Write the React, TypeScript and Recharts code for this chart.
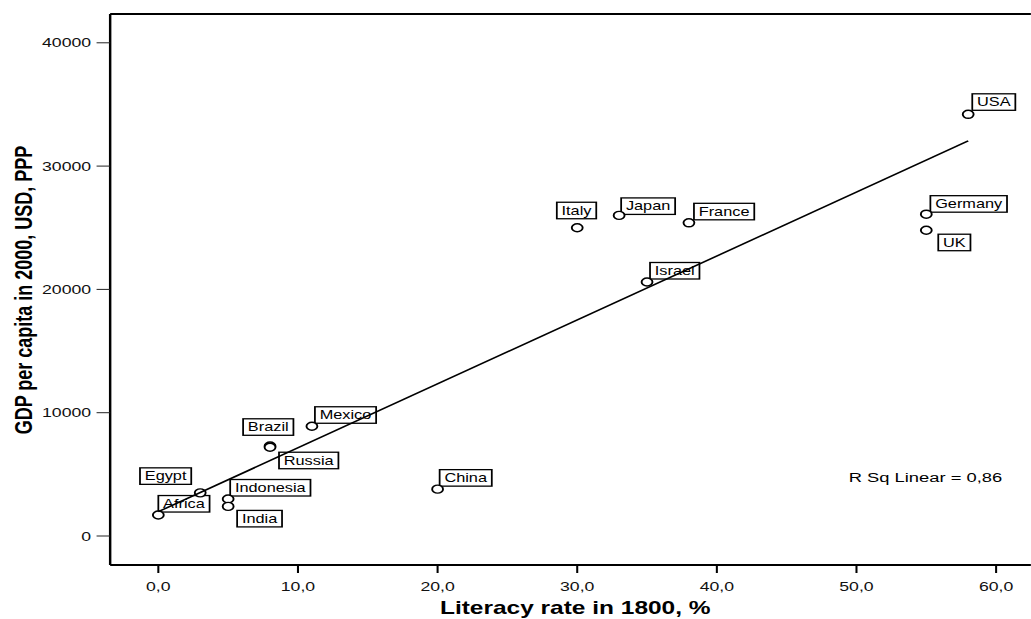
import React from 'react';
import { ScatterChart, Scatter, XAxis, YAxis, ReferenceLine } from 'recharts';

// values
const countries = ['Africa', 'Egypt', 'Indonesia', 'India', 'Brazil', 'Russia', 'Mexico', 'China', 'Italy', 'Japan', 'Israel', 'France', 'Germany', 'UK', 'USA'];
const literacy = [0, 3, 5, 5, 8, 8, 11, 20, 30, 33, 35, 38, 55, 55, 58];
const gdp = [1700, 3500, 3000, 2400, 7300, 7200, 8900, 3800, 25000, 26000, 20600, 25400, 26100, 24800, 34200];

const fitX = [0, 58];
const fitY = [1970, 32040];

const xTicks = [0, 10, 20, 30, 40, 50, 60];
const yTicks = [0, 10000, 20000, 30000, 40000];

// the reference is stretched sideways; draw narrow and scale the whole thing
const STRETCH = 1.36;
const W = 758;
const H = 619;
const FONT = '"Liberation Sans", Arial, Helvetica, sans-serif';

// where each label box sits relative to its point: side of the box anchored, dx, top offset
const LABEL_POS: Record<string, [string, number, number]> = {
  USA: ['l', 3, -20.5],
  Japan: ['l', 1.5, -17.5],
  France: ['l', 3.7, -19.5],
  Israel: ['l', 2.2, -19.5],
  Germany: ['l', 3, -18.5],
  Mexico: ['l', 2.2, -19.5],
  China: ['l', 1.5, -19.5],
  Indonesia: ['l', 1.5, -19.5],
  Italy: ['r', 14, -25.5],
  Brazil: ['r', 17.2, -27.2],
  Russia: ['l', 6.6, 5],
  Egypt: ['r', -6.6, -25],
  Africa: ['l', 0, -19.5],
  India: ['l', 6.6, 4],
  UK: ['l', 8.8, 4],
};

const points = countries.map((name, i) => ({ name, x: literacy[i], y: gdp[i] }));
const fitLine = fitX.map((x, i) => ({ x, y: fitY[i] }));

let ctx: CanvasRenderingContext2D | null = null;
const textWidth = (s: string) => {
  if (!ctx && typeof document !== 'undefined') ctx = document.createElement('canvas').getContext('2d');
  if (!ctx) return s.length * 7;
  ctx.font = `12px ${FONT}`;
  return ctx.measureText(s).width;
};

const CountryMark = (props: any) => {
  const { cx, cy, payload } = props;
  const pos = LABEL_POS[payload.name] || ['l', 2, -19.5];
  const w = textWidth(payload.name) + 7;
  const left = pos[0] === 'l' ? cx + pos[1] : cx + pos[1] - w;
  const top = cy + pos[2];
  return (
    <g>
      <rect x={left} y={top} width={w} height={16.5} fill="#fff" stroke="#000" strokeWidth={1.3} />
      <text x={left + 3.5} y={top + 12.5} fontSize={12} fontFamily={FONT} fill="#000">
        {payload.name}
      </text>
      <circle cx={cx} cy={cy} r={4} fill="#fff" stroke="#000" strokeWidth={1.4} />
    </g>
  );
};

const fmtX = (v: number) => v.toFixed(1).replace('.', ',');

export default function App() {
  return (
    <div
      style={{
        position: 'fixed',
        left: 0,
        top: 0,
        width: W,
        height: H,
        background: '#fff',
        transform: `scaleX(${STRETCH})`,
        transformOrigin: '0 0',
      }}
    >
      <ScatterChart width={W} height={H} margin={{ top: 14, right: 0, bottom: 0, left: 0 }}>
        <XAxis
          type="number"
          dataKey="x"
          domain={[-3.45, 62.49]}
          ticks={xTicks}
          allowDataOverflow
          tickFormatter={fmtX}
          height={54}
          axisLine={{ stroke: '#000', strokeWidth: 2 }}
          tickLine={{ stroke: '#000', strokeWidth: 1.5 }}
          tickSize={8}
          tickMargin={9}
          tick={{ fontSize: 13, fontFamily: FONT, fill: '#111' }}
          label={{
            content: () => (
              <g>
                <text x={423} y={614} textAnchor="middle" fontSize={18} fontWeight="bold" fontFamily={FONT} fill="#000">
                  Literacy rate in 1800, %
                </text>
                <text x={624} y={482.5} fontSize={13.5} fontFamily={FONT} fill="#000">
                  R Sq Linear = 0,86
                </text>
              </g>
            ),
          }}
        />
        <YAxis
          type="number"
          dataKey="y"
          domain={[-2352, 42335]}
          ticks={yTicks}
          allowDataOverflow
          width={81}
          axisLine={{ stroke: '#000', strokeWidth: 1.8 }}
          tickLine={{ stroke: '#222', strokeWidth: 1 }}
          tickSize={10}
          tickMargin={4}
          tick={{ fontSize: 13, fontFamily: FONT, fill: '#111' }}
          label={{
            content: () => (
              <text
                x={23.3}
                y={290}
                transform="rotate(-90, 23.3, 290)"
                textAnchor="middle"
                fontSize={18}
                fontWeight="bold"
                fontFamily={FONT}
                fill="#000"
              >
                GDP per capita in 2000, USD, PPP
              </text>
            ),
          }}
        />
        <ReferenceLine y={42335} stroke="#000" strokeWidth={2} />
        <Scatter data={points} shape={(p: any) => <CountryMark {...p} />} isAnimationActive={false} />
        <Scatter
          data={fitLine}
          line={{ stroke: '#000', strokeWidth: 1.5 }}
          shape={() => <g />}
          isAnimationActive={false}
        />
      </ScatterChart>
    </div>
  );
}
